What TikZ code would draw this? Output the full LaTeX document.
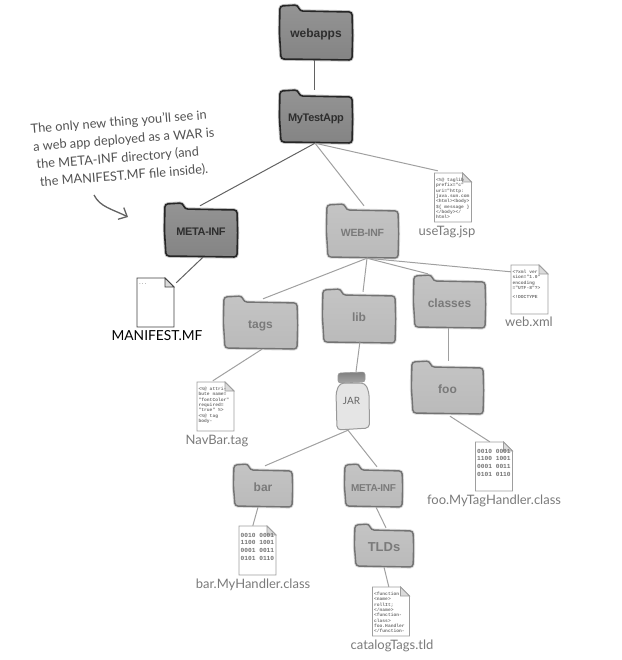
\documentclass[tikz,border=0pt]{standalone}
\usepackage{fontspec}
\setmainfont{Lato}
\setsansfont{Liberation Sans}
\setmonofont{Liberation Mono}
\usetikzlibrary{arrows.meta}
\definecolor{darkline}{HTML}{626262}
\definecolor{softline}{HTML}{A0A0A0}
\definecolor{softtext}{HTML}{7A7A7A}
\definecolor{darktop}{HTML}{949494}
\definecolor{darkmid}{HTML}{BEBEBE}
\definecolor{darkbot}{HTML}{848484}
\definecolor{softtop}{HTML}{C4C4C4}
\definecolor{softmid}{HTML}{DADADA}
\definecolor{softbot}{HTML}{BABABA}
\tikzset{
  darkfolder/.style={draw=black!85,line width=1.6pt,top color=darktop,middle color=darkmid,bottom color=darkbot},
  softfolder/.style={draw=black!55,line width=1.4pt,top color=softtop,middle color=softmid,bottom color=softbot},
  darkhalo/.style={draw=black!22,line width=3.4pt},
  softhalo/.style={draw=black!15,line width=3.2pt},
  darkname/.style={text=black!82},
  softname/.style={text=softtext},
  foldertext/.style={font=\sffamily\bfseries\fontsize{12}{14}\selectfont,inner sep=0pt},
  softdoc/.style={draw=black!38,line width=.8pt,fill=white},
  darkdoc/.style={draw=black!75,line width=.8pt,fill=white},
  doctext/.style={font=\ttfamily\bfseries\fontsize{4.6}{5.3}\selectfont,text=black!55,align=left,anchor=north west,inner sep=0pt},
  bintext/.style={font=\ttfamily\bfseries\fontsize{6.2}{7.6}\selectfont,text=black!55,align=left,anchor=north west,inner sep=0pt,yshift=-2pt},
  filelabel/.style={font=\fontsize{13}{15}\selectfont,text=softtext,inner sep=0pt},
  darklabel/.style={font=\fontsize{13.8}{15}\selectfont,text=black,inner sep=0pt},
  darkconn/.style={draw=darkline,line width=1pt},
  softconn/.style={draw=softline,line width=1pt},
}
% \folderbox{kind}{name}{x}{y}{w}{h}{font}{text}
\newcommand{\folderbox}[8]{%
  \begin{scope}[shift={(#3,#4)}]
    \pgfmathsetmacro{\fw}{#5}\pgfmathsetmacro{\fh}{#6}
    \pgfmathsetmacro{\ftab}{0.26*#5}
    \def\folderpath{(0,1) -- (\ftab-1,0) -- (\ftab+1,6) -- (\fw,7) -- (\fw+.6,\fh*.55) -- (\fw,\fh) -- (1,\fh-1) -- (-.6,\fh*.5) -- cycle}
    \path[#1halo,rounded corners=3pt] \folderpath;
    \path[#1folder,rounded corners=3pt] \folderpath;
    \node[foldertext,#1name,minimum width=#5 pt,minimum height=#6 pt] (#2) at (\fw/2,\fh/2) {\raisebox{-5.5pt}[0pt][0pt]{#7#8}};
  \end{scope}}
% \docbox{kind}{name}{x}{y}{text style}{text}
\newcommand{\docbox}[6]{%
  \begin{scope}[shift={(#3,#4)}]
    \path[#1doc] (0,0) -- (28,0) -- (37,9) -- (37,49) -- (0,49) -- cycle;
    \path[#1doc,fill=black!14] (28,0) -- (28,9) -- (37,9) -- cycle;
    \node[minimum width=37pt,minimum height=49pt,inner sep=0pt] (#2) at (18.5,24.5) {};
    \node[#5] (#2text) at (1.5,5) {#6};
  \end{scope}}
\begin{document}
\begin{tikzpicture}[x=1pt,y=-1pt]
\useasboundingbox (0,0) rectangle (621,660);

% folders
\folderbox{dark}{webapps}{280}{5}{72}{55}{}{webapps}
\folderbox{dark}{mytestapp}{280}{90}{72}{53}{\fontsize{11}{14}\selectfont\addfontfeature{LetterSpace=-3}}{MyTestApp}
\folderbox{dark}{metainf}{165}{203}{72}{54}{\fontsize{11}{14}\selectfont\addfontfeature{LetterSpace=-3}}{META-INF}
\folderbox{soft}{webinf}{327}{204}{71}{54}{\fontsize{10.5}{14}\selectfont\addfontfeature{LetterSpace=-3}}{WEB-INF}
\folderbox{soft}{tags}{224}{296}{73}{53}{}{tags}
\folderbox{soft}{lib}{323}{289}{72}{54}{}{lib}
\folderbox{soft}{classes}{414}{275}{71}{53}{}{classes}
\folderbox{soft}{foo}{412}{361}{71}{53}{}{foo}
\folderbox{soft}{bar}{234}{464}{58}{43}{}{bar}
\folderbox{soft}{metainfjar}{345}{464}{57}{43}{\fontsize{10}{12}\selectfont\addfontfeature{LetterSpace=-3}}{META-INF}
\folderbox{soft}{tlds}{355}{524}{58}{43}{\fontsize{13}{15}\selectfont}{TLDs}

% files
\docbox{soft}{usetag}{434.5}{173}{doctext}{<\%@ taglib\\prefix="c"\\uri="http:\\java.sun.com\\<html><body>\\\$\{ message \}\\</body></\\html>}
\docbox{dark}{manifest}{137}{278}{doctext}{...}
\docbox{soft}{navbar}{197}{382}{doctext}{<\%@ attri-\\bute name=\\"fontColor"\\required=\\"true" \%>\\<\%@ tag\\body-}
\docbox{soft}{webxml}{511}{265}{doctext}{<?xml ver\\sion="1.0"\\encoding\\="UTF-8"?>\\[4pt]<!DOCTYPE}
\docbox{soft}{fooclass}{475.5}{442}{bintext}{0010 0001\\1100 1001\\0001 0011\\0101 0110}
\docbox{soft}{barclass}{239}{526}{bintext}{0010 0001\\1100 1001\\0001 0011\\0101 0110}
\docbox{soft}{catalog}{372.5}{587}{doctext}{<function\\<name>\\rollIt;\\</name>\\<function-\\class>\\foo.Handler\\</function-}

% jar
\path[fill=black!10,draw=black!40,line width=1pt,rounded corners=4pt]
  (340,383) -- (365,383) -- (369,392) -- (369.5,428) -- (337,430) -- (336,392) -- cycle;
\path[top color=black!50,bottom color=black!35,draw=black!40,line width=.6pt,rounded corners=2.5pt]
  (338,373) -- (365,372) -- (365,382) -- (338,383) -- cycle;
\node[minimum width=33pt,minimum height=58pt,inner sep=0pt] (jar) at (352.5,401) {};
\node[font=\fontsize{10}{12}\selectfont,text=black!60,inner sep=0pt] (jarname) at (351.5,401) {JAR};

% file names
\node[filelabel,anchor=north] (usetagname) at (447,226) {useTag.jsp};
\node[darklabel,anchor=north] (manifestname) at (157,330) {MANIFEST.MF};
\node[filelabel,anchor=north] (navbarname) at (217,435) {NavBar.tag};
\node[filelabel,anchor=north] (webxmlname) at (529,317) {web.xml};
\node[filelabel,anchor=north] (fooclassname) at (494,495) {foo.MyTagHandler.class};
\node[filelabel,anchor=north] (barclassname) at (253,579) {bar.MyHandler.class};
\node[filelabel,anchor=north] (catalogname) at (392,640) {catalogTags.tld};

% connectors
\draw[darkconn] ([xshift=-2pt]webapps.south) -- ([xshift=-2pt]mytestapp.north);
\draw[darkconn] ([xshift=-1pt]mytestapp.south) -- ([xshift=-1pt,yshift=-3pt]metainf.north);
\draw[softconn] ([xshift=-1pt]mytestapp.south) -- ([xshift=1.5pt,yshift=-2pt]webinf.north);
\draw[softconn] ([xshift=-1pt]mytestapp.south) -- ([xshift=3.5pt,yshift=2pt]usetag.north west);
\draw[darkconn] ([xshift=2pt]metainf.south) -- ([xshift=2pt,yshift=-5pt]manifest.north east);
\draw[softconn] ([xshift=4.5pt]webinf.south) -- ([xshift=2.5pt,yshift=-3pt]tags.north);
\draw[softconn] ([xshift=4.5pt]webinf.south) -- ([xshift=4pt,yshift=-3pt]lib.north);
\draw[softconn] ([xshift=4.5pt]webinf.south) -- ([xshift=14pt,yshift=1pt]classes.north west);
\draw[softconn] ([xshift=4.5pt]webinf.south) -- ([yshift=-7pt]webxml.north west);
\draw[softconn] ([xshift=1pt,yshift=2pt]lib.south) -- ([xshift=3.5pt]jar.north);
\draw[softconn] ([xshift=1.5pt]tags.south) -- ([xshift=16pt,yshift=1pt]navbar.north west);
\draw[softconn] ([xshift=-1.5pt]classes.south) -- ([xshift=.5pt]foo.north);
\draw[softconn] ([xshift=2.5pt,yshift=-2pt]foo.south) -- ([xshift=14.5pt]fooclass.north west);
\draw[softconn] ([xshift=-4.5pt]jar.south) -- ([xshift=2pt,yshift=-2pt]bar.north);
\draw[softconn] ([xshift=-4.5pt]jar.south) -- ([xshift=3.5pt,yshift=-3pt]metainfjar.north);
\draw[softconn] ([xshift=-5pt]bar.south) -- ([xshift=14pt]barclass.north west);
\draw[softconn] ([xshift=2.5pt]metainfjar.south) -- ([xshift=2pt,yshift=-4pt]tlds.north);
\draw[softconn] (tlds.south) -- ([xshift=16.5pt]catalog.north west);

% annotation
\node[rotate=4.5,font=\fontsize{12.8}{18}\selectfont,text=black!68,align=left,inner sep=0pt] (note) at (124,149)
  {The only new thing you'll see in\\\hspace*{1pt}a web app deployed as a WAR is\\\hspace*{3pt}the META-INF directory (and\\\hspace*{5pt}the MANIFEST.MF file inside).};
\coordinate (notetail) at (94,195);
\coordinate (notehead) at (128,217);
\draw[darkconn,line width=1.3pt,-{Straight Barb[length=7pt,width=13pt]}] (notetail) .. controls (100,207) and (112,209) .. (notehead);
\end{tikzpicture}
\end{document}
